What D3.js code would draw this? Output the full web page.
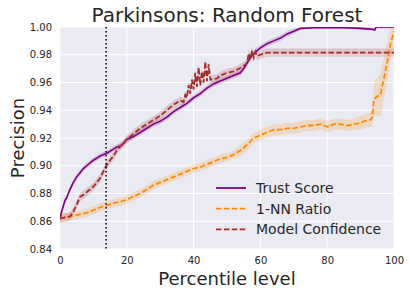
<!DOCTYPE html>
<html>
<head>
<meta charset="utf-8">
<script src="https://cdn.jsdelivr.net/npm/d3@7"></script>
<style>
  body { margin: 0; background: #fff; }
  text { font-family: "DejaVu Sans", sans-serif; fill: #262626; }
</style>
</head>
<body>
<div id="chart"></div>
<script>
// [percentile, precision, spread]
var trustScore = [
  [0, 0.862, 0.002], [0.5, 0.867, 0.002], [1, 0.871, 0.002], [1.5, 0.875, 0.002], [2, 0.877, 0.002],
  [2.5, 0.880, 0.002], [3, 0.883, 0.002], [4, 0.888, 0.002], [5, 0.892, 0.002], [6, 0.895, 0.002],
  [7, 0.898, 0.002], [8, 0.900, 0.002], [9, 0.902, 0.002], [10, 0.904, 0.002], [12, 0.907, 0.002],
  [14, 0.909, 0.002], [16, 0.912, 0.002], [17, 0.9135, 0.002], [18, 0.914, 0.002], [19, 0.916, 0.002],
  [20, 0.919, 0.002], [22, 0.921, 0.002], [24, 0.924, 0.002], [26, 0.927, 0.002], [28, 0.930, 0.002],
  [30, 0.932, 0.002], [32, 0.935, 0.002], [34, 0.939, 0.002], [36, 0.942, 0.002], [38, 0.945, 0.002],
  [40, 0.949, 0.002], [42, 0.952, 0.002], [44, 0.956, 0.002], [46, 0.959, 0.002], [48, 0.961, 0.002],
  [50, 0.963, 0.002], [52, 0.965, 0.002], [54, 0.967, 0.002], [55, 0.970, 0.002], [56, 0.974, 0.002],
  [57, 0.978, 0.002], [58, 0.981, 0.002], [59, 0.983, 0.002], [60, 0.985, 0.002], [62, 0.988, 0.002],
  [64, 0.990, 0.002], [66, 0.992, 0.002], [68, 0.995, 0.002], [70, 0.997, 0.002], [72, 0.999, 0.001],
  [76, 0.9995, 0.001], [85, 0.9995, 0.001], [90, 0.999, 0.001], [93, 0.9985, 0.001], [94.3, 0.998, 0.001],
  [94.6, 1.000, 0.001], [100, 1.000, 0.001]
];

var nnRatio = [
  [0, 0.862, 0.003], [2, 0.863, 0.003], [4, 0.864, 0.003], [6, 0.865, 0.003], [8, 0.866, 0.003],
  [10, 0.868, 0.003], [12, 0.870, 0.003], [14, 0.8715, 0.003], [16, 0.873, 0.003], [18, 0.874, 0.003],
  [20, 0.8755, 0.003], [22, 0.878, 0.003], [24, 0.880, 0.003], [26, 0.883, 0.003], [28, 0.886, 0.003],
  [30, 0.888, 0.003], [32, 0.890, 0.003], [34, 0.892, 0.003], [36, 0.894, 0.003], [38, 0.896, 0.003],
  [40, 0.898, 0.003], [42, 0.899, 0.003], [44, 0.901, 0.003], [46, 0.903, 0.003], [48, 0.905, 0.003],
  [50, 0.906, 0.003], [52, 0.908, 0.003], [54, 0.911, 0.004], [56, 0.915, 0.004], [58, 0.920, 0.004],
  [60, 0.922, 0.004], [62, 0.924, 0.004], [64, 0.926, 0.004], [66, 0.926, 0.004], [68, 0.927, 0.004],
  [70, 0.927, 0.004], [72, 0.928, 0.004], [74, 0.929, 0.004], [76, 0.929, 0.004], [78, 0.930, 0.004],
  [80, 0.928, 0.004], [82, 0.930, 0.004], [84, 0.930, 0.004], [86, 0.929, 0.004], [88, 0.930, 0.004],
  [90, 0.931, 0.005], [92, 0.933, 0.005], [93, 0.933, 0.005], [93.5, 0.935, 0.006], [94, 0.948, 0.012],
  [95, 0.950, 0.014], [96, 0.951, 0.015], [96.5, 0.958, 0.015], [97, 0.963, 0.015], [98, 0.975, 0.014],
  [99, 0.988, 0.012], [100, 0.997, 0.010]
];

var modelConfidence = [
  [0, 0.862, 0.003], [1, 0.8625, 0.003], [2, 0.863, 0.003], [3, 0.8635, 0.003], [4, 0.867, 0.003],
  [5, 0.872, 0.003], [6, 0.8775, 0.003], [7, 0.879, 0.003], [8, 0.881, 0.003], [9, 0.883, 0.003],
  [10, 0.885, 0.003], [11, 0.888, 0.003], [12, 0.891, 0.003], [13, 0.896, 0.003], [14, 0.9005, 0.003],
  [15, 0.904, 0.003], [16, 0.907, 0.003], [17, 0.911, 0.003], [18, 0.914, 0.003], [19, 0.916, 0.003],
  [20, 0.919, 0.003], [22, 0.923, 0.003], [24, 0.927, 0.003], [26, 0.930, 0.003], [28, 0.933, 0.003],
  [30, 0.936, 0.003], [32, 0.940, 0.003], [34, 0.944, 0.003], [36, 0.947, 0.003], [37, 0.946, 0.003],
  [37.5, 0.951, 0.003], [38, 0.949, 0.003], [38.5, 0.958, 0.003], [39, 0.952, 0.003], [39.5, 0.962, 0.003],
  [40, 0.955, 0.003], [40.5, 0.967, 0.003], [41, 0.957, 0.003], [41.5, 0.971, 0.003], [42, 0.958, 0.003],
  [42.5, 0.968, 0.003], [43, 0.960, 0.003], [43.5, 0.975, 0.003], [44, 0.961, 0.003], [44.5, 0.973, 0.003],
  [45, 0.962, 0.003], [46, 0.9625, 0.003], [47, 0.963, 0.003], [48, 0.965, 0.003], [50, 0.967, 0.003],
  [52, 0.968, 0.003], [54, 0.9705, 0.003], [55, 0.972, 0.003], [56, 0.974, 0.003], [56.5, 0.981, 0.003],
  [57, 0.977, 0.003], [57.5, 0.983, 0.003], [58, 0.978, 0.003], [58.5, 0.982, 0.003], [59, 0.979, 0.003],
  [60, 0.980, 0.003], [61, 0.981, 0.003], [62, 0.9815, 0.003], [100, 0.9815, 0.003]
];

var xTicks = [0, 20, 40, 60, 80, 100];
var yTicks = [0.84, 0.86, 0.88, 0.90, 0.92, 0.94, 0.96, 0.98, 1.00];
var cutoff = 13.8;

var seriesNames = ['Trust Score', '1-NN Ratio', 'Model Confidence'];
var seriesColors = ['#800080', '#ff8c00', '#a52a2a'];
var seriesDash = [null, '5.5,2.4', '5.5,2.4'];

var width = 410, height = 297;
var margin = {top: 27, right: 16, bottom: 48, left: 60};
var plotW = width - margin.left - margin.right;
var plotH = height - margin.top - margin.bottom;

var svg = d3.select('#chart').append('svg')
    .attr('width', width)
    .attr('height', height);

var x = d3.scaleLinear().domain([0, 100]).range([0, plotW]);
var y = d3.scaleLinear().domain([0.84, 1.00]).range([plotH, 0]);

var g = svg.append('g').attr('transform', 'translate(' + margin.left + ',' + margin.top + ')');

g.append('rect')
    .attr('width', plotW)
    .attr('height', plotH)
    .attr('fill', '#eaeaf2');

svg.append('defs').append('clipPath').attr('id', 'clip')
    .append('rect').attr('width', plotW).attr('height', plotH);

// gridlines
g.selectAll('.gx').data(xTicks).enter().append('line')
    .attr('x1', function (d) { return x(d); })
    .attr('x2', function (d) { return x(d); })
    .attr('y1', 0).attr('y2', plotH)
    .attr('stroke', '#fff').attr('stroke-width', 1);
g.selectAll('.gy').data(yTicks).enter().append('line')
    .attr('x1', 0).attr('x2', plotW)
    .attr('y1', function (d) { return y(d); })
    .attr('y2', function (d) { return y(d); })
    .attr('stroke', '#fff').attr('stroke-width', 1);

// axes (labels only, seaborn style)
var xAxis = g.append('g').attr('transform', 'translate(0,' + plotH + ')')
    .call(d3.axisBottom(x).tickValues(xTicks).tickSize(0).tickPadding(8));
var yAxis = g.append('g')
    .call(d3.axisLeft(y).tickValues(yTicks).tickSize(0).tickPadding(8).tickFormat(d3.format('.2f')));
[xAxis, yAxis].forEach(function (a) {
    a.select('.domain').remove();
    a.selectAll('text').attr('font-size', 10).attr('font-family', 'DejaVu Sans').attr('fill', '#262626');
});

var plot = g.append('g').attr('clip-path', 'url(#clip)');

var allSeries = [trustScore, nnRatio, modelConfidence];

var area = d3.area()
    .x(function (d) { return x(d[0]); })
    .y0(function (d) { return y(d[1] - d[2]); })
    .y1(function (d) { return y(d[1] + d[2]); });
var line = d3.line()
    .x(function (d) { return x(d[0]); })
    .y(function (d) { return y(d[1]); });

allSeries.forEach(function (s, i) {
    plot.append('path').datum(s)
        .attr('d', area)
        .attr('fill', seriesColors[i])
        .attr('fill-opacity', 0.18);
});
allSeries.forEach(function (s, i) {
    plot.append('path').datum(s)
        .attr('d', line)
        .attr('fill', 'none')
        .attr('stroke', seriesColors[i])
        .attr('stroke-width', i === 0 ? 1.6 : 1.8)
        .attr('stroke-dasharray', seriesDash[i]);
});

// cutoff marker
plot.append('line')
    .attr('x1', x(cutoff)).attr('x2', x(cutoff))
    .attr('y1', 0).attr('y2', plotH)
    .attr('stroke', '#000')
    .attr('stroke-width', 1.5)
    .attr('stroke-dasharray', '1.5,2.5');

// legend
var legend = g.append('g').attr('transform', 'translate(156,161)');
seriesNames.forEach(function (name, i) {
    var row = legend.append('g').attr('transform', 'translate(0,' + (i * 20.7) + ')');
    row.append('line')
        .attr('x1', 0).attr('x2', 30)
        .attr('stroke', seriesColors[i])
        .attr('stroke-width', 1.8)
        .attr('stroke-dasharray', seriesDash[i]);
    row.append('text')
        .attr('x', 40).attr('y', 5)
        .attr('font-size', 14)
        .text(name);
});

// titles
svg.append('text')
    .attr('x', margin.left + plotW / 2).attr('y', 22)
    .attr('text-anchor', 'middle')
    .attr('font-size', 20)
    .text('Parkinsons: Random Forest');
svg.append('text')
    .attr('x', margin.left + plotW / 2).attr('y', 285)
    .attr('text-anchor', 'middle')
    .attr('font-size', 18)
    .text('Percentile level');
svg.append('text')
    .attr('transform', 'translate(24,' + (margin.top + plotH / 2) + ') rotate(-90)')
    .attr('text-anchor', 'middle')
    .attr('font-size', 18)
    .text('Precision');
</script>
</body>
</html>
